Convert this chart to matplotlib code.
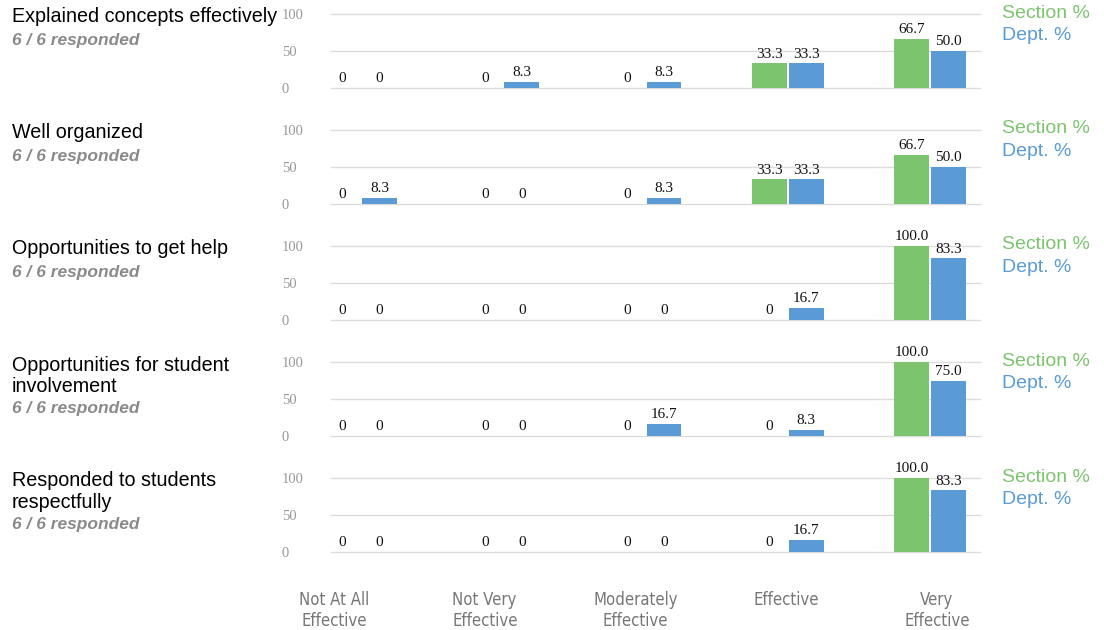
import matplotlib.pyplot as plt
from matplotlib import font_manager
import numpy as np

questions = ['Explained concepts effectively',
             'Well organized',
             'Opportunities to get help',
             'Opportunities for student\ninvolvement',
             'Responded to students\nrespectfully']
responded = ['6 / 6 responded'] * 5
categories = ['Not At All\nEffective', 'Not Very\nEffective', 'Moderately\nEffective',
              'Effective', 'Very\nEffective']

section = [[0, 0, 0, 33.3, 66.7],
           [0, 0, 0, 33.3, 66.7],
           [0, 0, 0, 0, 100.0],
           [0, 0, 0, 0, 100.0],
           [0, 0, 0, 0, 100.0]]
dept = [[0, 8.3, 8.3, 33.3, 50.0],
        [8.3, 0, 8.3, 33.3, 50.0],
        [0, 0, 0, 16.7, 83.3],
        [0, 0, 16.7, 8.3, 75.0],
        [0, 0, 0, 16.7, 83.3]]

green = '#7cc46e'
blue = '#5b9bd5'
W, H = 1104, 630

fig = plt.figure(figsize=(W / 100, H / 100), dpi=100)
sans = ['Liberation Sans', 'DejaVu Sans']
serif = ['Liberation Serif', 'DejaVu Serif']

# condensed face for the category labels, if one is installed
names = {f.name for f in font_manager.fontManager.ttflist}
narrow = [n for n in ['Liberation Sans Narrow', 'DejaVu Sans Condensed'] if n in names]
cond_family = narrow + ['DejaVu Sans']

x = np.arange(len(categories))
bw = 0.245
off = 0.13

for i in range(len(questions)):
    top = 14 + 116 * i
    bot = 88 + 116 * i
    ax = fig.add_axes([331 / W, 1 - bot / H, 649 / W, 74 / H])
    ax.set_xlim(-0.21, 4.35)
    ax.set_ylim(0, 100)
    for s in ax.spines.values():
        s.set_visible(False)
    for g in [0, 50, 100]:
        ax.axhline(g, color='#dcdcdc', lw=1.0, zorder=0, clip_on=False)
    ax.set_xticks([])
    ax.set_yticks([0, 50, 100])
    ax.tick_params(axis='y', length=0, pad=35.3, labelcolor='#999999')
    for lab in ax.get_yticklabels():
        lab.set_horizontalalignment('left')
        lab.set_family(serif)
        lab.set_fontsize(10.5)

    b1 = ax.bar(x - off, section[i], bw, color=green, zorder=2)
    b2 = ax.bar(x + off, dept[i], bw, color=blue, zorder=2)
    for bars, vals in [(b1, section[i]), (b2, dept[i])]:
        for b, v in zip(bars, vals):
            txt = '0' if v == 0 else f'{v:.1f}'
            ax.annotate(txt, (b.get_x() + b.get_width() / 2, v), xytext=(0, 2),
                        textcoords='offset points', ha='center', va='bottom',
                        family=serif, fontsize=11, color='#111111',
                        annotation_clip=False)

    # question title and response count
    lines = questions[i].split('\n')
    for k, line in enumerate(lines):
        fig.text(12 / W, 1 - (top + 3 + 21 * k) / H, line, family=sans, fontsize=14.2,
                 va='center', ha='left', color='black')
    fig.text(12 / W, 1 - (top + 3 + 21 * (len(lines) - 1) + 23) / H, responded[i],
             family=sans, fontsize=12.5, weight='bold', style='italic',
             color='#8a8a8a', va='center', ha='left')

    # legend
    fig.text(1002 / W, 1 - (top - 1) / H, 'Section %', family=sans, fontsize=14,
             color=green, va='center', ha='left')
    fig.text(1002 / W, 1 - (top + 21) / H, 'Dept. %', family=sans, fontsize=14,
             color=blue, va='center', ha='left')

for j, c in enumerate(categories):
    fig.text((334 + 150.75 * j) / W, 1 - 591 / H, c,
             family=cond_family, fontsize=12, fontstretch='condensed',
             color='#777777', ha='center', va='top', linespacing=1.2)

fig.savefig('out.png', dpi=100)
